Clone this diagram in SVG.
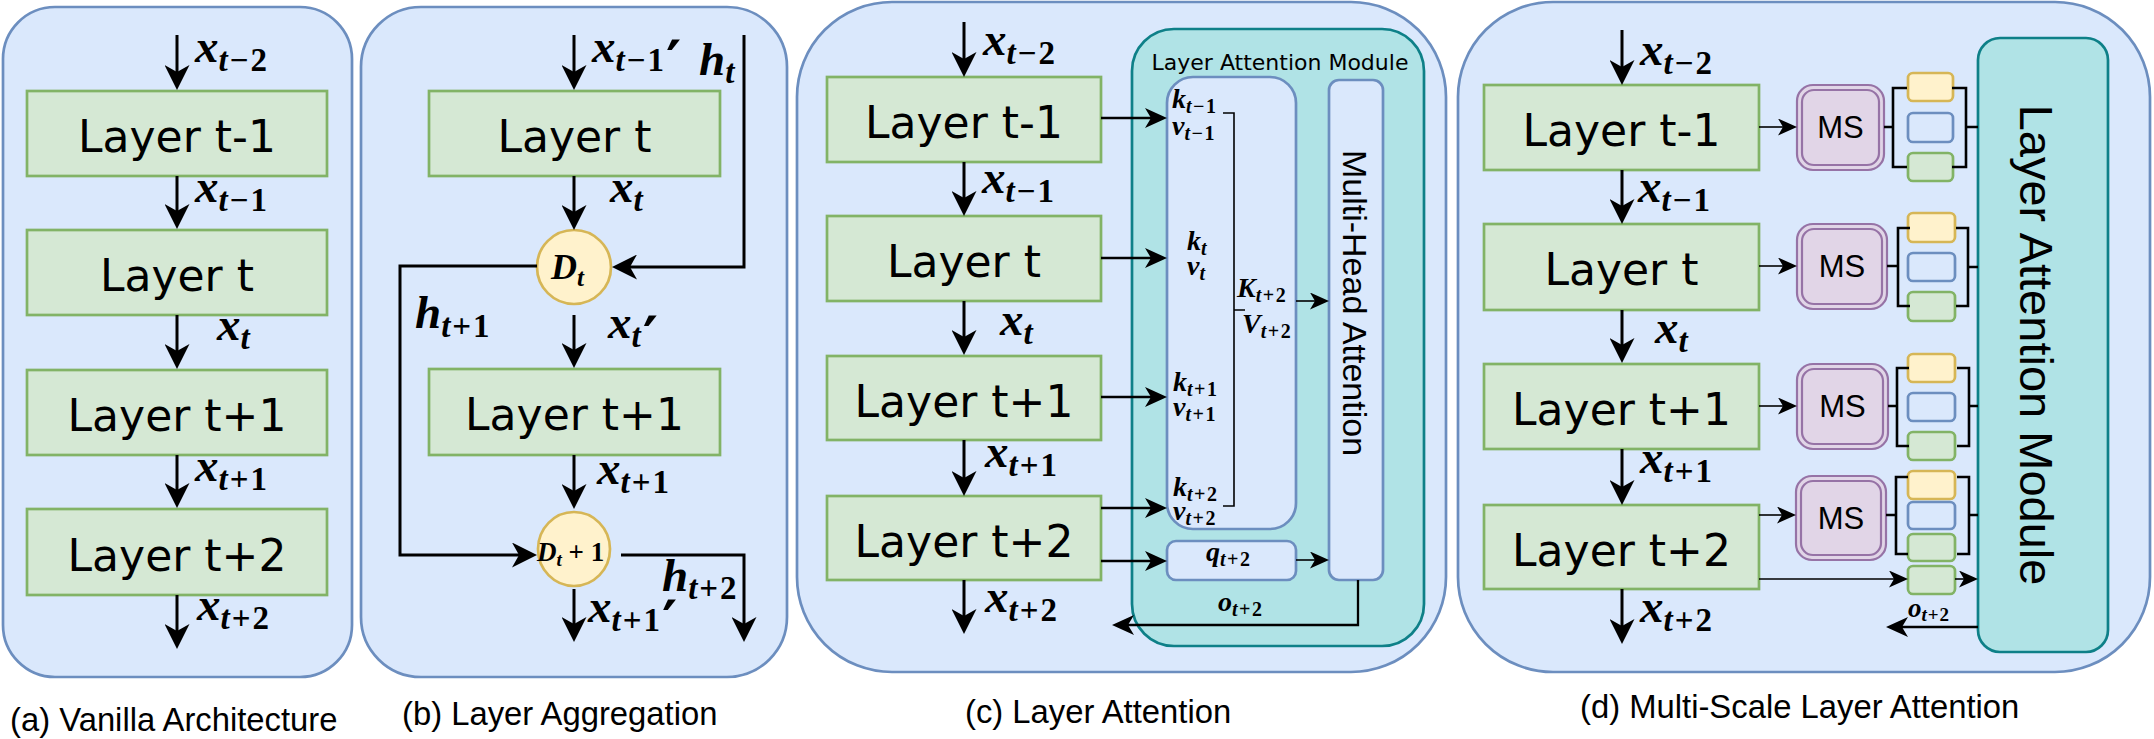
<svg xmlns="http://www.w3.org/2000/svg" width="2154" height="739" viewBox="0 0 2154 739">
<style>
.panel{fill:#dae8fc;stroke:#6c8ebf;stroke-width:2.7}
.layer{fill:#d5e8d4;stroke:#82b366;stroke-width:2.7}
.lt{font-family:"DejaVu Sans",Verdana,sans-serif;font-size:44px;text-anchor:middle;fill:#000}
.cap{font-family:"Liberation Sans",Arial,sans-serif;font-size:32.8px;fill:#000}
.hv{font-family:"Liberation Sans",Arial,sans-serif;fill:#000}
.m{font-family:"Liberation Serif","Times New Roman",serif;font-style:italic;font-weight:bold;fill:#000}
.n{font-style:normal}
.L{font-size:47px}
.L .s{font-size:33px;letter-spacing:2px}
.S{font-size:28px}
.S .s{font-size:20px;letter-spacing:1.5px}
.pr{font-family:"DejaVu Sans",sans-serif;font-style:normal;font-weight:bold;font-size:58px;letter-spacing:0}
.lam{fill:#b0e3e6;stroke:#0e8088;stroke-width:2.7}
.blue{fill:#dae8fc;stroke:#6c8ebf;stroke-width:2.7}
.ms{fill:#e1d5e7;stroke:#9673a6;stroke-width:2.2}
.yel{fill:#fff2cc;stroke:#d6b656;stroke-width:2.7}
.grn{fill:#d5e8d4;stroke:#82b366;stroke-width:2.7}
.c3{fill:none;stroke:#000;stroke-width:3}
.c2{fill:none;stroke:#000;stroke-width:2.3}
.c1{fill:none;stroke:#000;stroke-width:1.6}
.br{fill:none;stroke:#000;stroke-width:2.6}
</style>
<defs>
<marker id="ab" markerUnits="userSpaceOnUse" viewBox="0 0 25 25" markerWidth="25" markerHeight="25" refX="7" refY="12.5" orient="auto"><path d="M25,12.5 L0,0 L7,12.5 L0,25 Z" fill="#000"/></marker>
<marker id="am" markerUnits="userSpaceOnUse" viewBox="0 0 22 20" markerWidth="22" markerHeight="20" refX="6" refY="10" orient="auto"><path d="M22,10 L0,0 L6,10 L0,20 Z" fill="#000"/></marker>
<marker id="as" markerUnits="userSpaceOnUse" viewBox="0 0 19 17" markerWidth="19" markerHeight="17" refX="5" refY="8.5" orient="auto"><path d="M19,8.5 L0,0 L5,8.5 L0,17 Z" fill="#000"/></marker>
</defs>

<!-- panels -->
<g id="panel-a"><rect class="panel" x="3" y="7" width="349" height="670" rx="52"/></g>
<g id="panel-b"><rect class="panel" x="361" y="7" width="426" height="670" rx="60"/></g>
<g id="panel-c"><rect class="panel" x="797" y="2" width="649" height="670" rx="95"/></g>
<g id="panel-d"><rect class="panel" x="1458" y="2" width="692" height="670" rx="95"/></g>

<!-- panel (a) nodes -->
<g id="a-layer-tm1"><rect class="layer" x="27" y="91" width="300" height="85"/><text class="lt" x="177" y="152">Layer t-1</text></g>
<g id="a-layer-t"><rect class="layer" x="27" y="230" width="300" height="85"/><text class="lt" x="177" y="291">Layer t</text></g>
<g id="a-layer-tp1"><rect class="layer" x="27" y="370" width="300" height="85"/><text class="lt" x="177" y="431">Layer t+1</text></g>
<g id="a-layer-tp2"><rect class="layer" x="27" y="509" width="300" height="86"/><text class="lt" x="177" y="571">Layer t+2</text></g>

<!-- panel (b) nodes -->
<g id="b-layer-t"><rect class="layer" x="429" y="91" width="291" height="85"/><text class="lt" x="574.5" y="152">Layer t</text></g>
<g id="b-layer-tp1"><rect class="layer" x="429" y="369" width="291" height="86"/><text class="lt" x="574.5" y="430">Layer t+1</text></g>
<g id="b-dt"><ellipse class="yel" cx="574" cy="267" rx="37" ry="37"/><text class="m" x="551" y="279" font-size="36">D<tspan font-size="25" dy="7">t</tspan></text></g>
<g id="b-dt1"><ellipse class="yel" cx="574" cy="549" rx="36" ry="37"/><text class="m" x="537" y="561" font-size="27">D<tspan font-size="19" dy="5">t</tspan><tspan class="n" dy="-5"> + 1</tspan></text></g>

<!-- panel (c) nodes -->
<g id="c-layer-tm1"><rect class="layer" x="827" y="77" width="274" height="85"/><text class="lt" x="964" y="138">Layer t-1</text></g>
<g id="c-layer-t"><rect class="layer" x="827" y="216" width="274" height="85"/><text class="lt" x="964" y="277">Layer t</text></g>
<g id="c-layer-tp1"><rect class="layer" x="827" y="356" width="274" height="84"/><text class="lt" x="964" y="417">Layer t+1</text></g>
<g id="c-layer-tp2"><rect class="layer" x="827" y="496" width="274" height="84"/><text class="lt" x="964" y="557">Layer t+2</text></g>
<g id="c-lam"><rect class="lam" x="1132" y="29" width="292" height="617" rx="42"/><text x="1280" y="70" font-family="DejaVu Sans, Verdana, sans-serif" font-size="22" text-anchor="middle">Layer Attention  Module</text></g>
<g id="c-kv"><rect class="blue" x="1167" y="77" width="129" height="452" rx="26"/></g>
<g id="c-q"><rect class="blue" x="1167" y="541" width="129" height="39" rx="9"/><text class="m S" x="1206" y="561">q<tspan class="s" dy="5">t<tspan class="n">+2</tspan></tspan></text></g>
<g id="c-mha"><rect class="blue" x="1329" y="80" width="54" height="500" rx="10"/><text class="hv" font-size="34" text-anchor="middle" transform="translate(1355,303) rotate(90)" y="12">Multi-Head Attention</text></g>

<!-- panel (d) nodes -->
<g id="d-layer-tm1"><rect class="layer" x="1484" y="85" width="275" height="85"/><text class="lt" x="1621.5" y="146">Layer t-1</text></g>
<g id="d-layer-t"><rect class="layer" x="1484" y="224" width="275" height="86"/><text class="lt" x="1621.5" y="285">Layer t</text></g>
<g id="d-layer-tp1"><rect class="layer" x="1484" y="364" width="275" height="85"/><text class="lt" x="1621.5" y="425">Layer t+1</text></g>
<g id="d-layer-tp2"><rect class="layer" x="1484" y="505" width="275" height="84"/><text class="lt" x="1621.5" y="566">Layer t+2</text></g>
<g id="d-lam"><rect class="lam" x="1978" y="38" width="130" height="614" rx="22"/><text class="hv" font-size="47" text-anchor="middle" transform="translate(2037,345) rotate(90)" y="17">Layer Attention Module</text></g>
<g id="d-ms1"><rect class="ms" x="1797" y="85" width="87" height="85" rx="16"/><rect class="ms" x="1802" y="90" width="77" height="75" rx="12"/><text class="hv" font-size="31" text-anchor="middle" x="1840.5" y="138">MS</text></g>
<g id="d-ms2"><rect class="ms" x="1797" y="224" width="90" height="85" rx="16"/><rect class="ms" x="1802" y="229" width="80" height="75" rx="12"/><text class="hv" font-size="31" text-anchor="middle" x="1842" y="277">MS</text></g>
<g id="d-ms3"><rect class="ms" x="1797" y="364" width="91" height="85" rx="16"/><rect class="ms" x="1802" y="369" width="81" height="75" rx="12"/><text class="hv" font-size="31" text-anchor="middle" x="1842.5" y="417">MS</text></g>
<g id="d-ms4"><rect class="ms" x="1796" y="476" width="90" height="84" rx="16"/><rect class="ms" x="1801" y="481" width="80" height="74" rx="12"/><text class="hv" font-size="31" text-anchor="middle" x="1841" y="529">MS</text></g>
<g id="d-s1"><rect class="yel" x="1908" y="73" width="45" height="28" rx="5"/><rect class="blue" x="1908" y="113" width="45" height="29" rx="5"/><rect class="grn" x="1908" y="153" width="45" height="28" rx="5"/></g>
<g id="d-s2"><rect class="yel" x="1908" y="213" width="47" height="29" rx="5"/><rect class="blue" x="1908" y="253" width="47" height="28" rx="5"/><rect class="grn" x="1908" y="292" width="47" height="29" rx="5"/></g>
<g id="d-s3"><rect class="yel" x="1908" y="354" width="47" height="28" rx="5"/><rect class="blue" x="1908" y="393" width="47" height="28" rx="5"/><rect class="grn" x="1908" y="432" width="47" height="28" rx="5"/></g>
<g id="d-s4"><rect class="yel" x="1908" y="471" width="47" height="28" rx="5"/><rect class="blue" x="1908" y="502" width="47" height="27" rx="5"/><rect class="grn" x="1908" y="534" width="47" height="27" rx="5"/></g>
<g id="d-s5"><rect class="grn" x="1908" y="566" width="47" height="28" rx="5"/></g>

<!-- connectors -->
<g id="connectors">
<path class="c3" marker-end="url(#ab)" d="M177,35 V72"/>
<path class="c3" marker-end="url(#ab)" d="M177,176 V211"/>
<path class="c3" marker-end="url(#ab)" d="M177,315 V351"/>
<path class="c3" marker-end="url(#ab)" d="M177,455 V490"/>
<path class="c3" marker-end="url(#ab)" d="M177,595 V631"/>

<path class="c3" marker-end="url(#ab)" d="M574,35 V72"/>
<path class="c3" marker-end="url(#ab)" d="M574,176 V212"/>
<path class="c3" marker-end="url(#ab)" d="M744,35 V267 H630"/>
<path class="c3" marker-end="url(#ab)" d="M574,315 V350"/>
<path class="c3" marker-end="url(#ab)" d="M574,455 V491"/>
<path class="c3" marker-end="url(#ab)" d="M537,266 H400 V555 H519"/>
<path class="c3" marker-end="url(#ab)" d="M574,589 V624"/>
<path class="c3" marker-end="url(#ab)" d="M621,555 H744 V624"/>

<path class="c3" marker-end="url(#ab)" d="M964,22 V59"/>
<path class="c3" marker-end="url(#ab)" d="M964,162 V198"/>
<path class="c3" marker-end="url(#ab)" d="M964,301 V337"/>
<path class="c3" marker-end="url(#ab)" d="M964,440 V478"/>
<path class="c3" marker-end="url(#ab)" d="M964,580 V616"/>
<path class="c2" marker-end="url(#am)" d="M1101,118 H1151"/>
<path class="c2" marker-end="url(#am)" d="M1101,258 H1151"/>
<path class="c2" marker-end="url(#am)" d="M1101,397 H1151"/>
<path class="c2" marker-end="url(#am)" d="M1101,508 H1151"/>
<path class="c2" marker-end="url(#am)" d="M1101,561 H1151"/>
<path class="c1" d="M1223,113 H1234 V506 H1223 M1234,310 H1245"/>
<path class="c1" marker-end="url(#as)" d="M1296,301 H1315"/>
<path class="c1" marker-end="url(#as)" d="M1296,560 H1315"/>
<path class="c2" marker-end="url(#am)" d="M1358,580 V625 H1128"/>

<path class="c3" marker-end="url(#ab)" d="M1622,30 V67"/>
<path class="c3" marker-end="url(#ab)" d="M1622,170 V206"/>
<path class="c3" marker-end="url(#ab)" d="M1622,310 V345"/>
<path class="c3" marker-end="url(#ab)" d="M1622,449 V487"/>
<path class="c3" marker-end="url(#ab)" d="M1622,589 V626"/>
<path class="c1" marker-end="url(#as)" d="M1759,127 H1783"/>
<path class="c1" marker-end="url(#as)" d="M1759,266 H1783"/>
<path class="c1" marker-end="url(#as)" d="M1759,406 H1783"/>
<path class="c1" marker-end="url(#as)" d="M1759,515 H1782"/>
<path class="c1" marker-end="url(#as)" d="M1759,579 H1894"/>
<path class="c1" marker-end="url(#as)" d="M1955,579 H1964"/>
<path class="c2" marker-end="url(#am)" d="M1978,627 H1902"/>
<path class="br" d="M1884,127 H1893 M1907,88 H1893 V167 H1907 M1952,88 H1966 V167 H1952 M1966,127 H1978"/>
<path class="br" d="M1887,266 H1898 M1910,228 H1898 V306 H1910 M1956,228 H1968 V306 H1956 M1968,267 H1978"/>
<path class="br" d="M1888,406 H1897 M1909,368 H1897 V446 H1909 M1957,368 H1969 V446 H1957 M1969,406 H1978"/>
<path class="br" d="M1886,515 H1896 M1908,477 H1896 V554 H1908 M1957,477 H1969 V554 H1957 M1969,515 H1978"/>
</g>

<!-- labels -->
<g id="labels">
<text class="m L" x="195" y="62">x<tspan class="s" dy="9">t<tspan class="n">−2</tspan></tspan></text>
<text class="m L" x="195" y="202">x<tspan class="s" dy="9">t<tspan class="n">−1</tspan></tspan></text>
<text class="m L" x="217" y="340">x<tspan class="s" dy="9">t</tspan></text>
<text class="m L" x="195" y="481">x<tspan class="s" dy="9">t<tspan class="n">+1</tspan></tspan></text>
<text class="m L" x="197" y="620">x<tspan class="s" dy="9">t<tspan class="n">+2</tspan></tspan></text>

<text class="m L" x="592" y="62">x<tspan class="s" dy="9">t<tspan class="n">−1</tspan></tspan><tspan class="pr" dy="11">′</tspan></text>
<text class="m L" x="699" y="75">h<tspan class="s" dy="8">t</tspan></text>
<text class="m L" x="610" y="202">x<tspan class="s" dy="9">t</tspan></text>
<text class="m L" x="608" y="338">x<tspan class="s" dy="9">t</tspan><tspan class="pr" dy="11">′</tspan></text>
<text class="m L" x="415" y="328">h<tspan class="s" dy="9">t<tspan class="n">+1</tspan></tspan></text>
<text class="m L" x="597" y="484">x<tspan class="s" dy="9">t<tspan class="n">+1</tspan></tspan></text>
<text class="m L" x="588" y="622">x<tspan class="s" dy="9">t<tspan class="n">+1</tspan></tspan><tspan class="pr" dy="11">′</tspan></text>
<text class="m L" x="662" y="591">h<tspan class="s" dy="8">t<tspan class="n">+2</tspan></tspan></text>

<text class="m L" x="983" y="55">x<tspan class="s" dy="9">t<tspan class="n">−2</tspan></tspan></text>
<text class="m L" x="982" y="193">x<tspan class="s" dy="9">t<tspan class="n">−1</tspan></tspan></text>
<text class="m L" x="1000" y="335">x<tspan class="s" dy="9">t</tspan></text>
<text class="m L" x="985" y="467">x<tspan class="s" dy="9">t<tspan class="n">+1</tspan></tspan></text>
<text class="m L" x="985" y="612">x<tspan class="s" dy="9">t<tspan class="n">+2</tspan></tspan></text>
<text class="m S" x="1172" y="108">k<tspan class="s" dy="5">t<tspan class="n">−1</tspan></tspan></text>
<text class="m S" x="1172" y="135">v<tspan class="s" dy="5">t<tspan class="n">−1</tspan></tspan></text>
<text class="m S" x="1187" y="250">k<tspan class="s" dy="5">t</tspan></text>
<text class="m S" x="1187" y="275">v<tspan class="s" dy="5">t</tspan></text>
<text class="m S" x="1237" y="297">K<tspan class="s" dy="5">t<tspan class="n">+2</tspan></tspan></text>
<text class="m S" x="1242" y="333">V<tspan class="s" dy="5">t<tspan class="n">+2</tspan></tspan></text>
<text class="m S" x="1173" y="391">k<tspan class="s" dy="5">t<tspan class="n">+1</tspan></tspan></text>
<text class="m S" x="1173" y="416">v<tspan class="s" dy="5">t<tspan class="n">+1</tspan></tspan></text>
<text class="m S" x="1173" y="496">k<tspan class="s" dy="5">t<tspan class="n">+2</tspan></tspan></text>
<text class="m S" x="1173" y="520">v<tspan class="s" dy="5">t<tspan class="n">+2</tspan></tspan></text>
<text class="m S" x="1218" y="611">o<tspan class="s" dy="5">t<tspan class="n">+2</tspan></tspan></text>

<text class="m L" x="1640" y="65">x<tspan class="s" dy="9">t<tspan class="n">−2</tspan></tspan></text>
<text class="m L" x="1638" y="202">x<tspan class="s" dy="9">t<tspan class="n">−1</tspan></tspan></text>
<text class="m L" x="1655" y="343">x<tspan class="s" dy="9">t</tspan></text>
<text class="m L" x="1640" y="473">x<tspan class="s" dy="9">t<tspan class="n">+1</tspan></tspan></text>
<text class="m L" x="1640" y="622">x<tspan class="s" dy="9">t<tspan class="n">+2</tspan></tspan></text>
<text class="m" font-size="27" x="1908" y="617">o<tspan font-size="19" letter-spacing="1" dy="4">t<tspan class="n">+2</tspan></tspan></text>
</g>

<!-- captions -->
<g id="captions">
<text class="cap" x="10" y="731">(a) Vanilla Architecture</text>
<text class="cap" x="402" y="725">(b) Layer Aggregation</text>
<text class="cap" x="965" y="723">(c) Layer Attention</text>
<text class="cap" x="1580" y="718">(d) Multi-Scale Layer Attention</text>
</g>
</svg>
